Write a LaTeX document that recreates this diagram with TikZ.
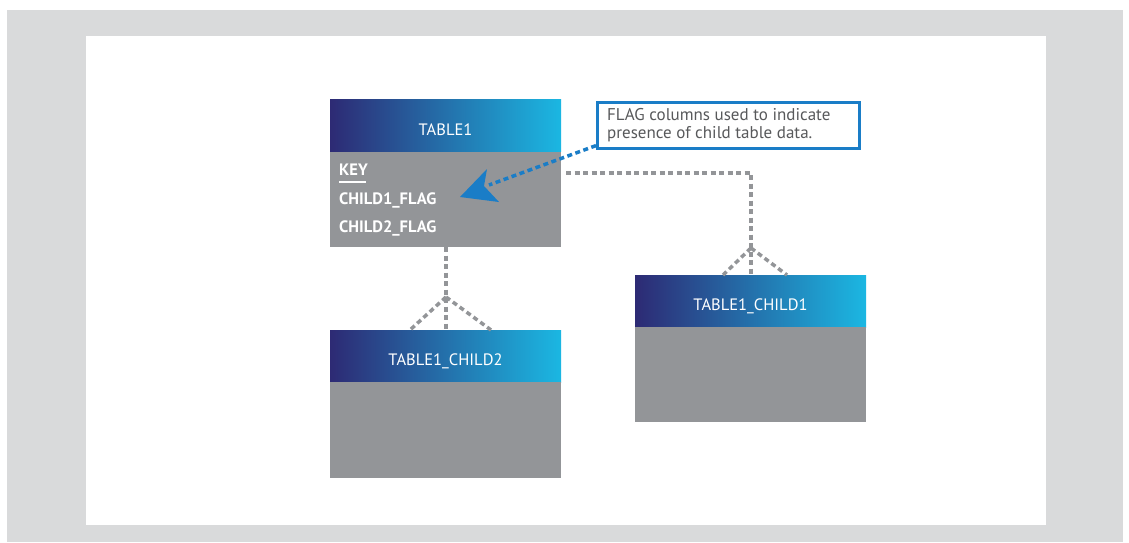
\documentclass[tikz,border=0pt]{standalone}
\usepackage{fontspec}
\setmainfont{PT Sans}
\usetikzlibrary{arrows.meta}
\definecolor{frame}{HTML}{D9DADB}
\definecolor{navy}{HTML}{2D2A74}
\definecolor{midblue}{HTML}{25508B}
\definecolor{cyanb}{HTML}{1BB7E2}
\definecolor{bodygray}{HTML}{939598}
\definecolor{linkgray}{HTML}{939598}
\definecolor{noteblue}{HTML}{1A7DC7}
\definecolor{notetext}{HTML}{58595B}
\tikzset{
  x=1pt, y=-1pt,
  header/.style={shading=axis, left color=navy, middle color=midblue, right color=cyanb, shading angle=90},
  tbody/.style={fill=bodygray},
  htext/.style={text=white, font=\fontsize{16.5}{19}\selectfont, anchor=base, inner sep=0pt},
  ftext/.style={text=white, font=\bfseries\fontsize{16.5}{19}\selectfont, anchor=base west, inner sep=0pt},
  link/.style={draw=linkgray, line width=3.5pt, dash pattern=on 5pt off 3.5pt},
  notelink/.style={draw=noteblue, line width=3.5pt, dash pattern=on 5pt off 3.5pt},
}
\begin{document}
\begin{tikzpicture}
\useasboundingbox (0,0) rectangle (1129,542);
% page frame
\fill[frame] (7,10) rectangle (1123,542);
\fill[white] (86,36) rectangle (1046,525);

% TABLE1
\shade[header] (330,99) rectangle (561,151);
\fill[tbody] (330,152) rectangle (561,247);
\node[htext] (t1) at (445.5,135) {TABLE1};
\coordinate (t1bottom) at (446,247);
\node[ftext] (key) at (339,175) {KEY};
\draw[white, line width=2pt] (339,181.5) -- (366,181.5);
\node[ftext] (f1) at (339,204) {CHILD1\_FLAG};
\node[ftext] (f2) at (339,232) {CHILD2\_FLAG};

% TABLE1_CHILD1
\shade[header] (635,275) rectangle (866,327);
\fill[tbody] (635,327) rectangle (866,422);
\node[htext] (c1) at (750.5,310) {TABLE1\_CHILD1};
\coordinate (c1top) at (751,275);
\coordinate (c1apex) at (751,248);
\coordinate (c1l) at (723,275);
\coordinate (c1r) at (787,275);

% TABLE1_CHILD2
\shade[header] (330,330) rectangle (561,382);
\fill[tbody] (330,382) rectangle (561,478);
\node[htext] (c2) at (445.5,365) {TABLE1\_CHILD2};
\coordinate (c2top) at (446,330);
\coordinate (c2apex) at (446,297);
\coordinate (c2l) at (410,330);
\coordinate (c2r) at (491,330);

% relationships
\draw[link] (566,173) -- (751,173) -- (c1top);
\draw[link] (c1apex) -- (c1l);
\draw[link] (c1apex) -- (c1r);
\draw[link] (t1bottom) -- (c2top);
\draw[link] (c2apex) -- (c2l);
\draw[link] (c2apex) -- (c2r);

% note
\node[draw=noteblue, line width=2.6pt, fill=white, minimum width=262pt, minimum height=46pt, anchor=north west] (note) at (596,101) {};
\node[anchor=base west, inner sep=0pt, text=notetext, font=\fontsize{17}{18}\selectfont] (notel1) at (607,120) {FLAG columns used to indicate};
\node[anchor=base west, inner sep=0pt, text=notetext, font=\fontsize{17}{18}\selectfont] (notel2) at (607,138) {presence of child table data.};
\coordinate (tip) at (460,197);
\draw[notelink] (note.south west) ++(0,-4) -- (489,185);
\fill[noteblue] (tip) -- (487,169) -- (484,186) -- (499,202) -- cycle;
\end{tikzpicture}
\end{document}
